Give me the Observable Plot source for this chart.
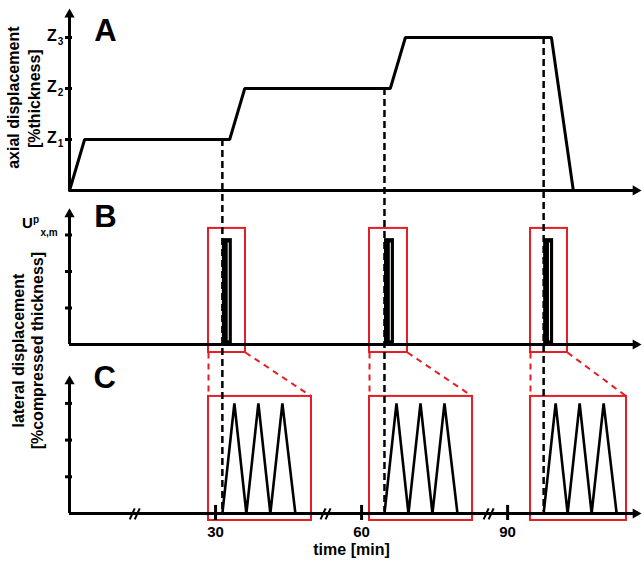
<!DOCTYPE html>
<html><head><meta charset="utf-8">
<script src="https://cdn.jsdelivr.net/npm/d3@7"></script>
<script src="https://cdn.jsdelivr.net/npm/@observablehq/plot@0.6"></script>
<style>body{margin:0;background:#fff}</style>
</head><body><div id="chart"></div>
<script>
// ---------- data (time in min, levels in panel tick units) ----------
const timeTicks = [30, 60, 90];
const timeTickLabels = ["30", "60", "90"];
const axialTime  = [0, 3.1, 32.9, 36.0, 65.9, 69.0, 99.0, 103.5];
const axialLevel = [0, 1, 1, 2, 2, 3, 3, 0];
const zLevels = [1, 2, 3];
const zSubs = ["1", "2", "3"];
const stepTimes = [31.4, 64.7, 97.4];
const stepLevels = [1, 2, 3];
const lateralTicks = [1, 2, 3];
const pulseWidth = 2.05;
const pulseGap = 1.2;
const pulseAmp = 2.9;
const cycleOffsets = [0, 2.47, 4.93, 7.40, 9.86, 12.33, 15.0];
const cycleLevels  = [0, 3, 0, 3, 0, 3, 0];
const boxBStart = [28.55, 61.63, 94.70];
const boxBEnd   = [36.15, 69.43, 102.3];
const boxBLow = -0.22, boxBHigh = 3.18;
const boxCStart = [28.55, 61.63, 94.70];
const boxCEnd   = [49.71, 82.79, 114.42];
const boxCLow = -0.19, boxCHigh = 3.19;
const breakTimes = [13.4, 52.6, 86.1];

// ---------- layout of the three stacked panels ----------
const RED = "#e31e24";
const rowA = v => v;
const rowB = v => (190 - (344 - 36.5 * v)) / 51;
const rowC = v => (190 - (513 - 36.7 * v)) / 51;
const px = 1 / 4.8677; // one pixel in minutes
const xEnd = 116.3;

const panels = [
  {row: rowA, top: 3.45},
  {row: rowB, top: 3.57},
  {row: rowC, top: 3.6}
];

const axial = axialTime.map((t, i) => ({t, v: rowA(axialLevel[i])}));
const boxesB = boxBStart.map((s, i) => ({x1: s, x2: boxBEnd[i], y1: rowB(boxBLow), y2: rowB(boxBHigh)}));
const boxesC = boxCStart.map((s, i) => ({x1: s, x2: boxCEnd[i], y1: rowC(boxCLow), y2: rowC(boxCHigh)}));
const zoomLinks = boxBStart.flatMap((s, i) => [
  {x1: s, y1: rowB(boxBLow), x2: boxCStart[i], y2: rowC(boxCHigh)},
  {x1: boxBEnd[i], y1: rowB(boxBLow), x2: boxCEnd[i], y2: rowC(boxCHigh)}
]);
const zig = stepTimes.flatMap((s, i) => cycleOffsets.map((o, j) => ({t: s + o, v: rowC(cycleLevels[j]), k: i})));
const pulses = stepTimes.map(s => ({x1: s, x2: s + pulseWidth, y1: rowB(0), y2: rowB(pulseAmp), g: s + pulseGap}));
const dashed = stepTimes.map((s, i) => ({t: s, y1: rowA(stepLevels[i]), y2: rowC(0.05)}));
const yTicks = [
  ...zLevels.map(v => rowA(v)),
  ...lateralTicks.map(v => rowB(v)),
  ...lateralTicks.map(v => rowC(v))
];
const breaks = breakTimes.flatMap(b => [
  {x1: b - 5 * px, x2: b, y1: rowC(-0.16), y2: rowC(0.14)},
  {x1: b, x2: b + 5 * px, y1: rowC(-0.16), y2: rowC(0.14)}
]);

const bold = {fontWeight: "bold", fill: "black"};

const chart = Plot.plot({
  width: 644, height: 562,
  margin: 0,
  style: {fontFamily: "'Liberation Sans', Arial, sans-serif", background: "white"},
  x: {domain: [-14.18, 117.3], range: [0, 640], axis: null},
  y: {domain: [-7.294, 3.725], range: [562, 0], axis: null},
  marks: [
    // red zoom boxes and connectors
    Plot.rect(boxesB, {x1: "x1", x2: "x2", y1: "y1", y2: "y2", fill: "none", stroke: RED, strokeWidth: 2}),
    Plot.rect(boxesC, {x1: "x1", x2: "x2", y1: "y1", y2: "y2", fill: "none", stroke: RED, strokeWidth: 2}),
    Plot.link(zoomLinks, {x1: "x1", y1: "y1", x2: "x2", y2: "y2", stroke: RED, strokeWidth: 2, strokeDasharray: "6,5"}),
    // axes
    Plot.ruleY(panels, {y: d => d.row(0), x1: 0, x2: xEnd, stroke: "black", strokeWidth: 3}),
    Plot.ruleX(panels, {x: 0, y1: d => d.row(0), y2: d => d.row(d.top), stroke: "black", strokeWidth: 3}),
    Plot.dot(panels, {x: 0, y: d => d.row(d.top), symbol: "triangle", r: 3.8, fill: "black", stroke: "none"}),
    Plot.dot(panels, {x: xEnd, y: d => d.row(0), symbol: "triangle", r: 3.8, fill: "black", stroke: "none", rotate: 90}),
    Plot.ruleY(yTicks, {y: d => d, x1: -4 * px, x2: 3 * px, stroke: "black", strokeWidth: 3}),
    Plot.ruleX(timeTicks, {x: d => d, y1: rowC(0.22), y2: rowC(-0.19), stroke: "black", strokeWidth: 3}),
    Plot.link(breaks, {x1: "x1", y1: "y1", x2: "x2", y2: "y2", stroke: "black", strokeWidth: 2}),
    // panel A curve
    Plot.line(axial, {x: "t", y: "v", stroke: "black", strokeWidth: 3, strokeLinejoin: "miter"}),
    // panel B pulses
    Plot.rect(pulses, {x1: "x1", x2: "x2", y1: "y1", y2: "y2", fill: "black"}),
    Plot.ruleX(pulses, {x: "g", y1: d => rowB(0.1), y2: d => rowB(pulseAmp - 0.12), stroke: "white", strokeWidth: 1}),
    // panel C cycles
    Plot.line(zig, {x: "t", y: "v", z: "k", stroke: "black", strokeWidth: 2.6, strokeLinejoin: "miter"}),
    // dashed guide lines
    Plot.ruleX(dashed, {x: "t", y1: "y1", y2: "y2", stroke: "black", strokeWidth: 2.5, strokeDasharray: "7,4"}),
    // panel letters
    Plot.text(["A"], {x: 7.39, y: rowA(3.12), text: d => d, fontSize: 31, ...bold}),
    Plot.text(["B"], {x: 7.39, y: rowB(3.48), text: d => d, fontSize: 31, ...bold}),
    Plot.text(["C"], {x: 7.2, y: rowC(3.68), text: d => d, fontSize: 31, ...bold}),
    // y labels
    Plot.text(["axial displacement"], {x: -11.51, y: rowA(1.82), text: d => d, rotate: -90, fontSize: 16, ...bold}),
    Plot.text(["[%thickness]"], {x: -7.2, y: rowA(1.8), text: d => d, rotate: -90, fontSize: 16, ...bold}),
    Plot.text(["lateral displacement"], {x: -10.5, y: rowA(-3.14), text: d => d, rotate: -90, fontSize: 16, ...bold}),
    Plot.text(["[%compressed thickness]"], {x: -6.4, y: rowA(-3.14), text: d => d, rotate: -90, fontSize: 16, ...bold}),
    // Z tick labels
    Plot.text(zLevels, {x: -3.6, y: d => rowA(d) + 2 / 51, text: () => "Z", fontSize: 16, ...bold}),
    Plot.text(zLevels, {x: -1.85, y: d => rowA(d) - 4 / 51, text: (d, i) => zSubs[i], fontSize: 10, ...bold}),
    // U label
    Plot.text(["U"], {x: -8.63, y: rowB(3.32), text: d => d, fontSize: 15, ...bold}),
    Plot.text(["p"], {x: -6.9, y: rowB(3.42), text: d => d, fontSize: 10, ...bold}),
    Plot.text(["x,m"], {x: -5.96, y: rowB(3.07), text: d => d, fontSize: 10, textAnchor: "start", ...bold}),
    // time axis labels
    Plot.text(timeTicks, {x: d => d, y: rowC(-0.52), text: (d, i) => timeTickLabels[i], fontSize: 15, ...bold}),
    Plot.text(["time [min]"], {x: 57.93, y: rowC(-0.98), text: d => d, fontSize: 16, ...bold})
  ]
});
document.getElementById("chart").appendChild(chart);
</script>
</body></html>
